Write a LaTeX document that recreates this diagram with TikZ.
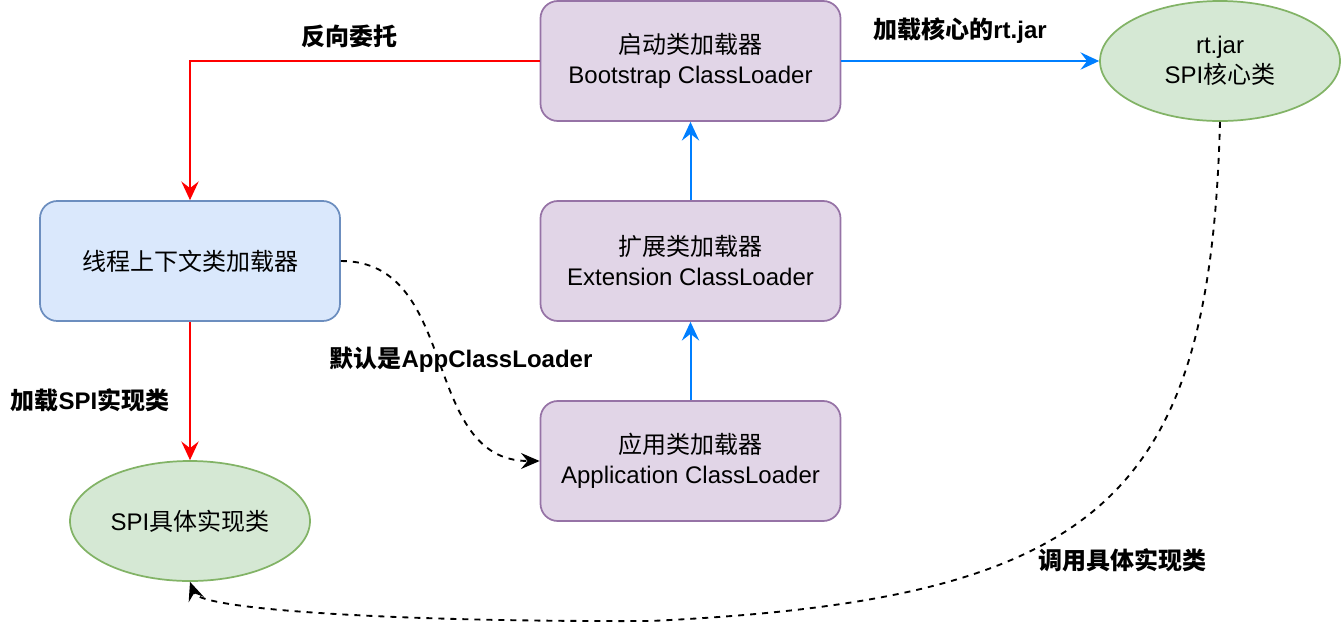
\documentclass[tikz,border=0pt]{standalone}
\usepackage{fontspec}
\setmainfont{Liberation Sans}
\newfontfamily\zh{Noto Sans CJK SC}
\usetikzlibrary{shapes.geometric,arrows.meta}
\definecolor{purplefill}{HTML}{E1D5E7}
\definecolor{purpleline}{HTML}{9673A6}
\definecolor{bluefill}{HTML}{DAE8FC}
\definecolor{blueline}{HTML}{6C8EBF}
\definecolor{greenfill}{HTML}{D5E8D4}
\definecolor{greenline}{HTML}{82B366}
\definecolor{arrowblue}{HTML}{007FFF}
\definecolor{arrowred}{HTML}{FF0000}
\begin{document}
\begin{tikzpicture}[x=0.75pt,y=-0.75pt,
    every node/.style={font=\fontsize{18pt}{22.5pt}\selectfont,align=center},
    loader/.style={draw=purpleline,fill=purplefill,line width=1.3pt,rounded corners=13pt,minimum width=225pt,minimum height=90pt},
    ctxbox/.style={loader,draw=blueline,fill=bluefill},
    jarbox/.style={ellipse,draw=greenline,fill=greenfill,line width=1.3pt,minimum width=180pt,minimum height=90pt,inner sep=0pt},
    tag/.style={font=\fontsize{18pt}{22.5pt}\selectfont\bfseries},
    redarr/.style={arrowred,line width=1.5pt,-{Stealth[length=14pt,width=13pt,inset=5pt]}},
    bluearr/.style={redarr,arrowblue},
    dasharr/.style={black,line width=1.4pt,dash pattern=on 4.5pt off 4.5pt,-{Stealth[length=14pt,width=12pt,inset=5pt]}}]
    \useasboundingbox (0,0) rectangle (1342,622);

    \node[loader] (boot) at (690.5,61) {{\zh 启动类加载器}\\Bootstrap ClassLoader};
    \node[loader] (ext) at (690.5,261) {{\zh 扩展类加载器}\\Extension ClassLoader};
    \node[loader] (app) at (690.5,461) {{\zh 应用类加载器}\\Application ClassLoader};
    \node[ctxbox] (thread) at (190,261) {\zh 线程上下文类加载器};
    \node[jarbox] (rtjar) at (1220,61) {rt.jar\\SPI{\zh 核心类}};
    \node[jarbox] (spi) at (190,521) {SPI{\zh 具体实现类}};

    \draw[redarr] (boot.west) -| (thread.north);
    \draw[redarr] (thread.south) -- (spi.north);
    \draw[bluearr] (boot.east) -- (rtjar.west);
    \draw[bluearr] (ext.north) -- (boot.south);
    \draw[bluearr] (app.north) -- (ext.south);

    \draw[dasharr] (thread.east) .. controls +(120,0) and +(-120,0) .. (app.west);
    \coordinate (low) at (650,621);
    \draw[dasharr] (rtjar.south) .. controls (1210,500) and (1100,600) .. (low) .. controls (400,622) and (200,610) .. (spi.south);

    \node[tag] (back) at (349,36) {\zh 反向委托};
    \node[tag] (core) at (960,31) {{\zh 加载核心的}rt.jar};
    \node[tag] (dflt) at (461,360) {{\zh 默认是}AppClassLoader};
    \node[tag] (load) at (90,400) {{\zh 加载}SPI{\zh 实现类}};
    \node[tag] (call) at (1122,560) {\zh 调用具体实现类};
\end{tikzpicture}
\end{document}
